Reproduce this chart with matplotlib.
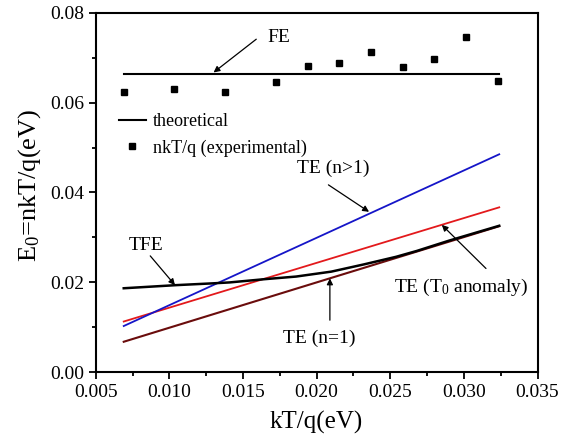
import matplotlib
matplotlib.use("Agg")
import matplotlib.pyplot as plt
from matplotlib.lines import Line2D
from matplotlib.ticker import MultipleLocator

plt.rcParams['font.family'] = ['Liberation Serif', 'DejaVu Serif']
plt.rcParams['mathtext.fontset'] = 'custom'
plt.rcParams['mathtext.rm'] = 'Liberation Serif'
plt.rcParams['mathtext.it'] = 'Liberation Serif:italic'

# experimental nkT/q points
kt_exp = [0.00689, 0.01034, 0.01379, 0.01723, 0.01939, 0.02154,
          0.02370, 0.02585, 0.02800, 0.03016, 0.03231]
e0_exp = [0.0623, 0.0630, 0.0623, 0.0645, 0.0681, 0.0689,
          0.0713, 0.0680, 0.0697, 0.0746, 0.0648]

# theoretical curves (end points of straight lines)
kt_line = [0.0069, 0.0324]
fe_line = [0.0663, 0.0663]
te_n_gt1 = [0.0103, 0.0485]
te_t0 = [0.0113, 0.0367]
te_n1 = [0.0068, 0.0325]

# TFE curve
kt_tfe = [0.0069, 0.0105, 0.0130, 0.0141, 0.0164, 0.0186, 0.0210,
          0.0232, 0.0254, 0.0268, 0.0290, 0.0324]
e0_tfe = [0.0187, 0.0194, 0.0198, 0.0200, 0.0207, 0.0213, 0.0224,
          0.0240, 0.0257, 0.0270, 0.0293, 0.0326]

fig = plt.figure(figsize=(5.7, 4.37), dpi=100)
ax = fig.add_axes([0.168, 0.148, 0.775, 0.823])

ax.plot(kt_line, fe_line, color='black', lw=1.5)
ax.plot(kt_line, te_n1, color='#6a0c0c', lw=1.5)
ax.plot(kt_line, te_t0, color='#e3191c', lw=1.3)
ax.plot(kt_line, te_n_gt1, color='#1515c8', lw=1.3)
ax.plot(kt_tfe, e0_tfe, color='black', lw=1.8)
ax.plot(kt_exp, e0_exp, ls='none', marker='s', ms=4.5, color='black')

ax.set_xlim(0.005, 0.035)
ax.set_ylim(0.0, 0.08)
ax.xaxis.set_major_locator(MultipleLocator(0.005))
ax.xaxis.set_minor_locator(MultipleLocator(0.0025))
ax.yaxis.set_major_locator(MultipleLocator(0.02))
ax.yaxis.set_minor_locator(MultipleLocator(0.01))
ax.xaxis.set_major_formatter(matplotlib.ticker.FormatStrFormatter('%.3f'))
ax.yaxis.set_major_formatter(matplotlib.ticker.FormatStrFormatter('%.2f'))
ax.tick_params(which='both', direction='out', top=False, right=False,
               labelsize=14, width=1.3)
ax.tick_params(which='major', length=5)
ax.tick_params(which='minor', length=3)
for s in ax.spines.values():
    s.set_linewidth(1.5)

ax.set_xlabel('kT/q(eV)', fontsize=18, labelpad=7)
ax.set_ylabel(r'E$_\mathrm{0}$=nkT/q(eV)', fontsize=19, labelpad=6)
ax.yaxis.set_label_coords(-0.12, 0.52)

arrow = dict(arrowstyle='-|>', color='black', lw=0.9,
             mutation_scale=9, shrinkA=0, shrinkB=0)
fs = 14
ax.annotate('', xy=(0.0130, 0.0667), xytext=(0.0159, 0.0741), arrowprops=arrow)
ax.text(0.0174, 0.0744, 'FE', fontsize=fs, ha='center', va='center')

ax.annotate('', xy=(0.02356, 0.0357), xytext=(0.0208, 0.0417), arrowprops=arrow)
ax.text(0.0211, 0.0454, 'TE (n>1)', fontsize=fs, ha='center', va='center')

ax.annotate('', xy=(0.01038, 0.0194), xytext=(0.0087, 0.0259), arrowprops=arrow)
ax.text(0.0084, 0.0281, 'TFE', fontsize=fs, ha='center', va='center')

ax.annotate('', xy=(0.0209, 0.0209), xytext=(0.0209, 0.0116), arrowprops=arrow)
ax.text(0.0202, 0.0076, 'TE (n=1)', fontsize=fs, ha='center', va='center')

ax.annotate('', xy=(0.0285, 0.0328), xytext=(0.0315, 0.0231), arrowprops=arrow)
ax.text(0.0298, 0.0189, r'TE (T$_\mathrm{0}$ anomaly)', fontsize=fs,
        ha='center', va='center')

handles = [Line2D([], [], color='black', lw=1.5),
           Line2D([], [], ls='none', marker='s', ms=4.5, color='black')]
ax.legend(handles, ['theoretical', 'nkT/q (experimental)'], loc='upper left',
          bbox_to_anchor=(0.015, 0.765), frameon=False, fontsize=13,
          handlelength=1.5, handletextpad=0.4, labelspacing=0.5)

fig.savefig('out.png', dpi=100)
